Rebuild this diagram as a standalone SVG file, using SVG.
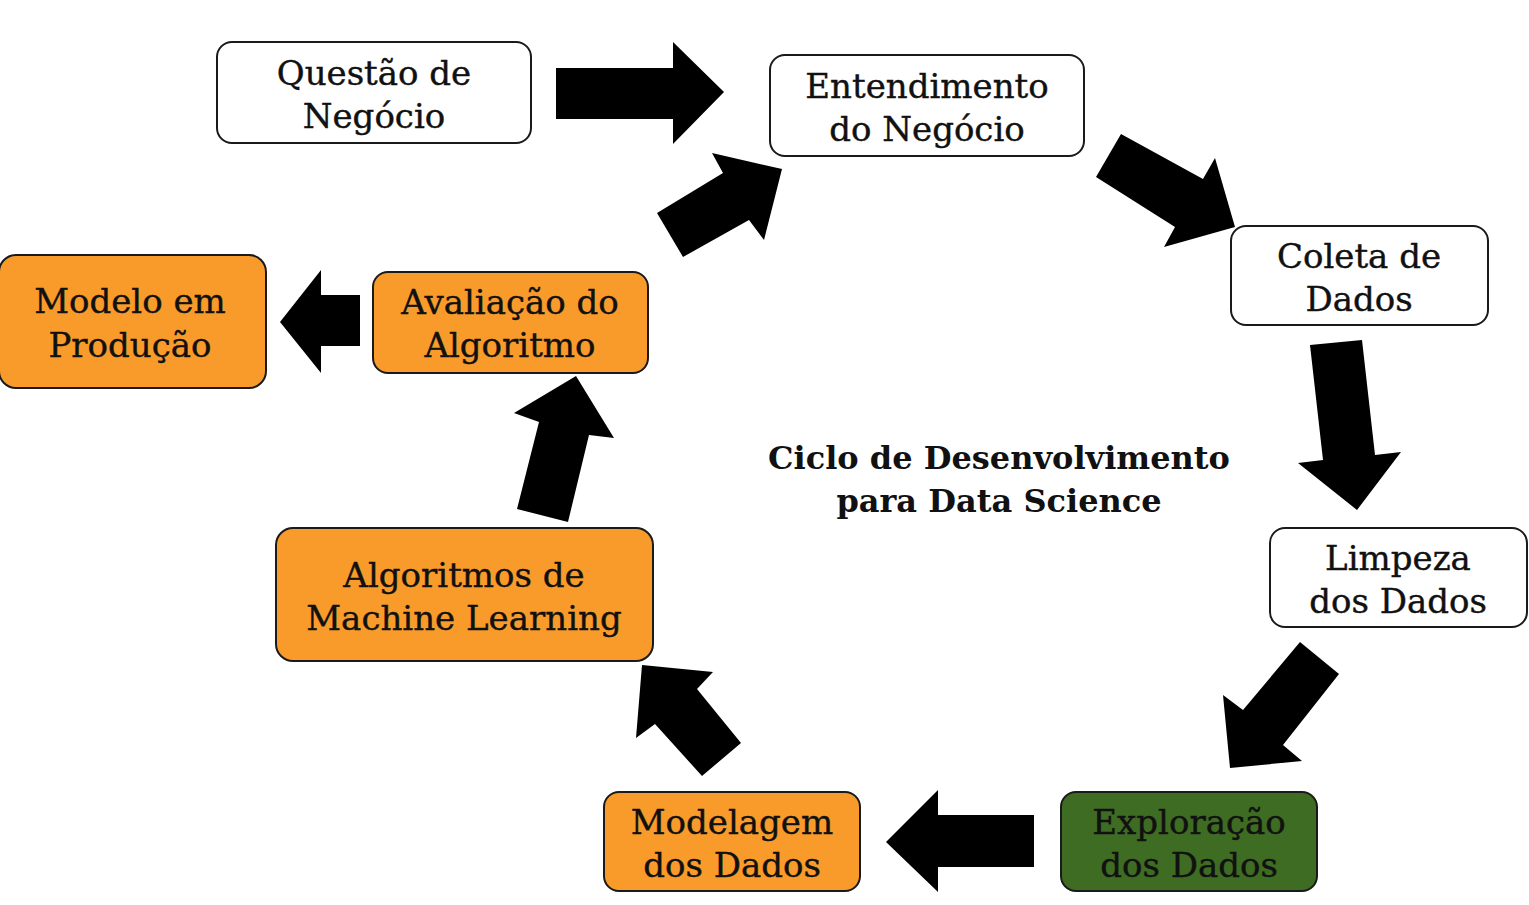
<svg xmlns="http://www.w3.org/2000/svg" width="1529" height="905" viewBox="0 0 1529 905">
  <style>
    .box { stroke: #1a1a1a; stroke-width: 2; }
    .white { fill: #ffffff; }
    .orange { fill: #f89b2b; }
    .green { fill: #3e6c22; }
    .lbl { font-family: "DejaVu Serif", "Liberation Serif", serif; font-size: 34px; fill: #111111; stroke: #111111; stroke-width: 0.4; text-anchor: middle; }
    .title { font-family: "DejaVu Serif", "Liberation Serif", serif; font-size: 32px; font-weight: bold; fill: #111111; text-anchor: middle; }
    .arrow { fill: #000000; }
  </style>
  <rect width="1529" height="905" fill="#ffffff"/>

  <!-- block arrows between steps -->
  <g id="connectors">
    <polygon class="arrow" points="556,68 673,68 673,42 724,92 673,144 673,119 556,119"/>
    <polygon class="arrow" points="1121,134 1203,179 1215,158 1235,227 1164,247 1175,227 1096,177"/>
    <polygon class="arrow" points="1310,345 1362,340 1375,455 1401,452 1357,510 1298,463 1323,460"/>
    <polygon class="arrow" points="1300,642 1339,674 1283,745 1302,761 1230,768 1223,695 1243,710"/>
    <polygon class="arrow" points="1034,815 938,815 938,790 886,842 938,892 938,867 1034,867"/>
    <polygon class="arrow" points="642,665 713,672 697,689 741,743 702,776 655,724 636,738"/>
    <polygon class="arrow" points="576,376 614,438 589,435 568,522 517,509 539,422 514,413"/>
    <polygon class="arrow" points="360,295 321,295 321,270 280,322 321,373 321,346 360,346"/>
    <polygon class="arrow" points="657,213 723,173 712,153 782,169 764,240 749,220 683,257"/>
  </g>

  <g id="questao-negocio">
    <rect class="box white" x="217" y="42" width="314" height="101" rx="15"/>
    <text class="lbl" x="374" y="85">Questão de</text>
    <text class="lbl" x="374" y="128">Negócio</text>
  </g>

  <g id="entendimento-negocio">
    <rect class="box white" x="770" y="55" width="314" height="101" rx="15"/>
    <text class="lbl" x="927" y="98">Entendimento</text>
    <text class="lbl" x="927" y="141">do Negócio</text>
  </g>

  <g id="coleta-dados">
    <rect class="box white" x="1231" y="226" width="257" height="99" rx="15"/>
    <text class="lbl" x="1359" y="268">Coleta de</text>
    <text class="lbl" x="1359" y="311">Dados</text>
  </g>

  <g id="limpeza-dados">
    <rect class="box white" x="1270" y="528" width="257" height="99" rx="15"/>
    <text class="lbl" x="1398" y="570">Limpeza</text>
    <text class="lbl" x="1398" y="613">dos Dados</text>
  </g>

  <g id="exploracao-dados">
    <rect class="box green" x="1061" y="792" width="256" height="99" rx="15"/>
    <text class="lbl" x="1189" y="834">Exploração</text>
    <text class="lbl" x="1189" y="877">dos Dados</text>
  </g>

  <g id="modelagem-dados">
    <rect class="box orange" x="604" y="792" width="256" height="99" rx="15"/>
    <text class="lbl" x="732" y="834">Modelagem</text>
    <text class="lbl" x="732" y="877">dos Dados</text>
  </g>

  <g id="algoritmos-ml">
    <rect class="box orange" x="276" y="528" width="377" height="133" rx="17"/>
    <text class="lbl" x="464" y="587">Algoritmos de</text>
    <text class="lbl" x="464" y="630">Machine Learning</text>
  </g>

  <g id="avaliacao-algoritmo">
    <rect class="box orange" x="373" y="272" width="275" height="101" rx="15"/>
    <text class="lbl" x="510" y="314">Avaliação do</text>
    <text class="lbl" x="510" y="357">Algoritmo</text>
  </g>

  <g id="modelo-producao">
    <rect class="box orange" x="-1" y="255" width="267" height="133" rx="17"/>
    <text class="lbl" x="130" y="313">Modelo em</text>
    <text class="lbl" x="130" y="357">Produção</text>
  </g>

  <g id="titulo">
    <text class="title" x="999" y="469">Ciclo de Desenvolvimento</text>
    <text class="title" x="999" y="512">para Data Science</text>
  </g>
</svg>
